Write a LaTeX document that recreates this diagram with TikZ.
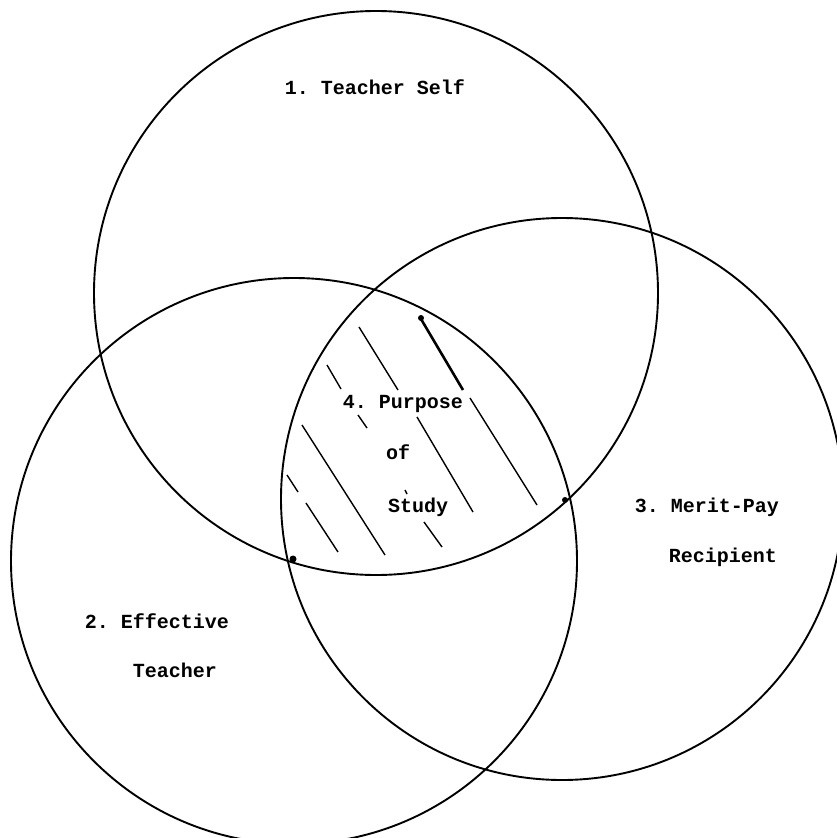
\documentclass[tikz,border=0pt]{standalone}
\usepackage{fontspec}
\setmonofont{Liberation Mono}
\begin{document}
\begin{tikzpicture}[x=1pt,y=-1pt,
  venn/.style={draw, circle, line width=1.9pt, inner sep=0pt, outer sep=0pt, minimum size=#1},
  lbl/.style={font=\ttfamily\bfseries\fontsize{20}{24}\selectfont, inner sep=0pt},
  hatch/.style={line width=1.4pt},
  dotmark/.style={fill, circle, inner sep=0pt, minimum size=7pt}]
\useasboundingbox (0,0) rectangle (837,838);
\node[venn=564pt] (c1) at (376,293) {};
\node[venn=566pt] (c2) at (294,561) {};
\node[venn=562pt] (c3) at (562,499) {};
% labels
\node[lbl] (t1) at (375,87) {1. Teacher Self};
\node[lbl] (t2a) at (157,621) {2. Effective};
\node[lbl] (t2b) at (175,670) {Teacher};
\node[lbl] (t3a) at (707,507) {3. Merit-Pay};
\node[lbl] (t3b) at (723,557) {Recipient};
\node[lbl] (t4a) at (403,404) {4. Purpose};
\node[lbl] (t4b) at (398,452) {of};
\node[lbl] (t4c) at (418,507) {Study};
% intersection dots
\node[dotmark] (d1) at (293,559) {};
\node[dotmark, minimum size=6pt] (d2) at (565,500) {};
% hatching of the common region
\draw[hatch] (327,365) -- (341,389);
\draw[hatch] (359,327) -- (398,390);
\draw[line width=2.6pt] (421,319) -- (463,390);
\fill (421,318) circle (3pt);
\draw[hatch] (470,398) -- (537,505);
\draw[hatch] (417,417) -- (473,512);
\draw[hatch] (302,425) -- (385,555);
\draw[hatch] (287,475) -- (298,492);
\draw[hatch] (306,503) -- (338,552);
\draw[hatch] (358,415) -- (367,428);
\draw[hatch] (405,490) -- (407,494);
\draw[hatch] (424,522) -- (442,547);
\end{tikzpicture}
\end{document}
